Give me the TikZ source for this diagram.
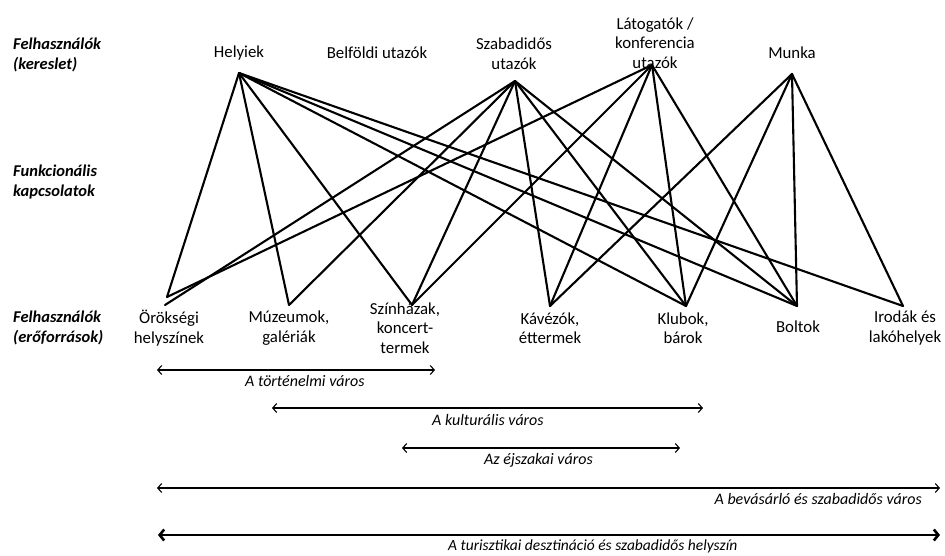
\documentclass[tikz,border=0pt]{standalone}
\usepackage{fontspec}
\setmainfont{Carlito}
\usetikzlibrary{arrows.meta}
\begin{document}
\begin{tikzpicture}[x=1pt,y=-1pt,
  lbl/.style={font=\fontsize{16.8}{19.5}\selectfont, align=center, inner sep=0pt},
  side/.style={font=\fontsize{16.5}{20.5}\selectfont\bfseries\itshape, align=left, anchor=west, inner sep=0pt},
  link/.style={line width=2.1pt, line cap=round, line join=round},
  span/.style={line width=1.1pt, {Straight Barb[length=4pt,width=9pt]}-{Straight Barb[length=4pt,width=9pt]}},
  bigspan/.style={line width=2.6pt, {Straight Barb[length=4.5pt,width=11pt]}-{Straight Barb[length=4.5pt,width=11pt]}},
  spanlbl/.style={font=\fontsize{16}{18}\selectfont\itshape, inner sep=0pt, anchor=west}]

\fill[white] (0,0) rectangle (945,555);
\useasboundingbox (0,0) rectangle (945,555);

% row titles
\node[side] (t1) at (13,55) {Felhasználók\\(kereslet)};
\node[side] (t2) at (13,182) {Funkcionális\\kapcsolatok};
\node[side] (t3) at (13,328) {Felhasználók\\(erőforrások)};

% demand side
\node[lbl] (hely) at (239,53) {Helyiek};
\node[lbl] (belf) at (377,53) {Belföldi utazók};
\node[lbl] (szab) at (514,53.5) {Szabadidős\\utazók};
\node[lbl] (lato) at (655,43) {Látogatók /\\konferencia\\utazók};
\node[lbl] (munka) at (792,53) {Munka};

% supply side
\node[lbl] (orok) at (169,328) {Örökségi\\helyszínek};
\node[lbl] (muz) at (289,328) {Múzeumok,\\galériák};
\node[lbl] (szin) at (405,328) {Színházak,\\koncert-\\termek};
\node[lbl] (kav) at (550,328) {Kávézók,\\éttermek};
\node[lbl] (klub) at (683,328) {Klubok,\\bárok};
\node[lbl] (bolt) at (798,327) {Boltok};
\node[lbl] (irod) at (905,328) {Irodák és\\lakóhelyek};

% line end points
\coordinate (h) at (239,73);
\coordinate (s) at (515,81);
\coordinate (l) at (652,65);
\coordinate (m) at (792,74);
\coordinate (o1) at (167,297);
\coordinate (o2) at (165,305);
\coordinate (mu) at (289,305);
\coordinate (sz) at (412,305);
\coordinate (ka) at (550,306);
\coordinate (kl) at (686,306);
\coordinate (bo) at (797,306);
\coordinate (ir) at (903,306);

% functional links
\foreach \a/\b in {h/o1, h/mu, h/sz, h/kl, h/bo, h/ir,
                   s/o2, s/mu, s/sz, s/ka, s/kl, s/bo,
                   l/o1, l/sz, l/ka, l/kl, l/bo,
                   m/ka, m/kl, m/bo, m/ir}
  \draw[link] (\a) -- (\b);

% city types
\coordinate (a1l) at (157,370); \coordinate (a1r) at (435,370);
\coordinate (a2l) at (272,408); \coordinate (a2r) at (703,408);
\coordinate (a3l) at (402,448); \coordinate (a3r) at (680,448);
\coordinate (a4l) at (157,488); \coordinate (a4r) at (940,488);
\coordinate (a5l) at (158,535); \coordinate (a5r) at (940,535);

\draw[span] (a1l) -- (a1r);
\draw[span] (a2l) -- (a2r);
\draw[span] (a3l) -- (a3r);
\draw[span] (a4l) -- (a4r);
\draw[bigspan] (a5l) -- (a5r);

\node[spanlbl] (c1) at (245,381) {A történelmi város};
\node[spanlbl] (c2) at (432,420) {A kulturális város};
\node[spanlbl] (c3) at (484,460) {Az éjszakai város};
\node[spanlbl, anchor=east] (c4) at (922,499) {A bevásárló és szabadidős város};
\node[spanlbl, font=\fontsize{15.5}{17}\selectfont\itshape] (c5) at (448,546) {A turisztikai desztináció és szabadidős helyszín};
\end{tikzpicture}
\end{document}
